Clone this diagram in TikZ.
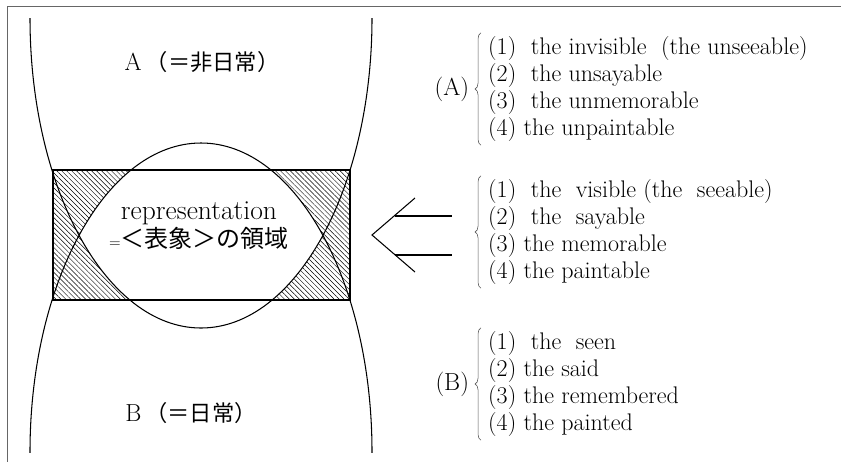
\documentclass[tikz,border=0pt]{standalone}
\usepackage{fontspec}
\newfontfamily\jpfont{Noto Sans CJK JP}
\usetikzlibrary{positioning,patterns.meta,decorations.pathreplacing}

\tikzset{
  curve/.style={line width=0.9pt},
  band/.style={line width=1.3pt},
  hatch/.style={pattern={Lines[angle=-45,distance=3pt,line width=0.4pt]}},
  listtext/.style={align=left,inner sep=0pt,font=\fontsize{20.5}{23}\selectfont},
  tagtext/.style={inner sep=0pt,font=\fontsize{21}{23}\selectfont},
  curly/.style={decorate,decoration={brace,amplitude=5pt},draw=black!65,line width=0.5pt},
}

\begin{document}
\begin{tikzpicture}[x=0.03cm,y=-0.03cm]
  \useasboundingbox (0,0) rectangle (841,462);
  % frame
  \draw[black!60,line width=0.6pt] (841,6) -- (7,6) -- (7,462);

  % hatched band minus the common part of A and B
  \begin{scope}
    \clip (53,170) rectangle (350,300);
    \fill[hatch] (53,170) rectangle (350,300);
    \begin{scope}
      \clip (201,18) ellipse [x radius=171, y radius=310];
      \fill[white] (201,452) ellipse [x radius=171, y radius=309];
    \end{scope}
  \end{scope}
  \draw[band] (53,170) rectangle (350,300);

  % the regions A and B
  \begin{scope}
    \clip (7,18) rectangle (841,452);
    \draw[curve] (201,18) ellipse [x radius=171, y radius=310];
    \draw[curve] (201,452) ellipse [x radius=171, y radius=309];
  \end{scope}

  \node[tagtext] (nona) at (202,62) {A\,{\fontsize{19}{23}\selectfont\jpfont（＝非日常）}};
  \node[tagtext] (nonb) at (191,413) {B\,{\fontsize{19}{23}\selectfont\jpfont（＝日常）}};
  \node[inner sep=0pt,align=center] (repr) at (199,226)
    {{\fontsize{23.5}{26}\selectfont representation}\\[1pt]
     {\fontsize{13}{13}\selectfont=}{\fontsize{20.5}{24}\selectfont\jpfont ＜表象＞の領域}};

  % double arrow
  \coordinate (tip) at (372,235);
  \coordinate (armu) at (415,198);
  \coordinate (armd) at (415,272);
  \coordinate (barua) at (395,216);
  \coordinate (barub) at (452,216);
  \coordinate (barda) at (395,255);
  \coordinate (bardb) at (452,255);
  \draw[curve] (armu) -- (tip) -- (armd);
  \draw[curve] (barua) -- (barub);
  \draw[curve] (barda) -- (bardb);

  % lists
  \node[listtext,anchor=west] (lista) at (488,89) {%
    (1)\ \ the invisible\ \ (the unseeable)\\
    (2)\ \ the unsayable\\
    (3)\ \ the unmemorable\\
    (4) the unpaintable};
  \node[listtext,anchor=west] (listm) at (488,232) {%
    (1)\ \ the\ \ visible\ (the\ \ seeable)\\
    (2)\ \ the\ \ sayable\\
    (3) the memorable\\
    (4) the paintable};
  \node[listtext,anchor=west] (listb) at (488,384) {%
    (1)\ \ the\ \ seen\\
    (2) the said\\
    (3) the remembered\\
    (4) the painted};

  \draw[curly] ([xshift=-6pt,yshift=-3pt]lista.south west) -- ([xshift=-6pt,yshift=3pt]lista.north west);
  \draw[curly] ([xshift=-6pt,yshift=-3pt]listm.south west) -- ([xshift=-6pt,yshift=3pt]listm.north west);
  \draw[curly] ([xshift=-6pt,yshift=-3pt]listb.south west) -- ([xshift=-6pt,yshift=3pt]listb.north west);

  \node[tagtext,left=16pt of lista] (laba) {(A)};
  \node[tagtext,left=16pt of listb] (labb) {(B)};
\end{tikzpicture}
\end{document}
